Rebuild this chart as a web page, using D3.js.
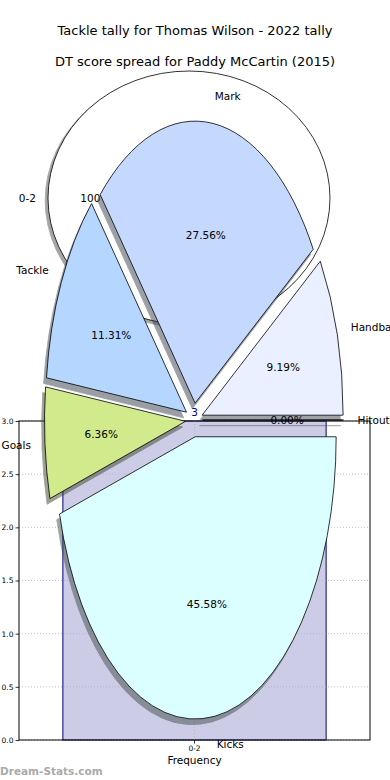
<!DOCTYPE html>
<html>
<head>
<meta charset="utf-8">
<script src="https://cdn.jsdelivr.net/npm/d3@7"></script>
<style>
  body { margin: 0; background: #fff; }
  svg { display: block; font-family: 'DejaVu Sans', sans-serif; }
</style>
</head>
<body>
<svg></svg>
<script>
'use strict';

const svgWidth = 390;
const svgHeight = 780;

// bar chart (frequency of the score band)
const barCategories = ['0-2'];
const barValues = [3];
const yTicks = [0, 0.5, 1, 1.5, 2, 2.5, 3];

// big single-slice pie behind
const outerLabels = ['0-2'];
const outerValues = [100];

// stat breakdown pie, counter-clockwise from 3 o'clock
const statLabels = ['Handball', 'Mark', 'Tackle', 'Goals', 'Kicks', 'Hitout'];
const statValues = [9.19, 27.56, 11.31, 6.36, 45.58, 0.00];
const statColors = ['#eaf0ff', '#c5d9ff', '#b4d6ff', '#d0ea8c', '#dbffff', '#ffffff'];

const svg = d3.select('svg')
  .attr('width', svgWidth)
  .attr('height', svgHeight);

// ---- bar axes ----
const plot = { left: 19, right: 370, top: 421, bottom: 740 };

const x = d3.scaleBand()
  .domain(barCategories)
  .range([plot.left, plot.right])
  .paddingInner(0)
  .paddingOuter(1 / 6);

const y = d3.scaleLinear()
  .domain([0, 3])
  .range([plot.bottom, plot.top]);

const barG = svg.append('g');

barG.selectAll('rect.bar')
  .data(barValues)
  .join('rect')
  .attr('class', 'bar')
  .attr('x', (d, i) => x(barCategories[i]))
  .attr('width', x.bandwidth())
  .attr('y', d => y(d))
  .attr('height', d => y(0) - y(d))
  .attr('fill', 'rgba(0,0,128,0.2)')
  .attr('stroke', 'navy')
  .attr('stroke-width', 1);

// dotted grid
const gridG = barG.append('g')
  .attr('stroke', '#b0b0b0')
  .attr('stroke-width', 0.8)
  .attr('stroke-dasharray', '1,2');

gridG.selectAll('line.h')
  .data(yTicks)
  .join('line')
  .attr('class', 'h')
  .attr('x1', plot.left).attr('x2', plot.right)
  .attr('y1', d => y(d)).attr('y2', d => y(d));

gridG.selectAll('line.v')
  .data(barCategories)
  .join('line')
  .attr('class', 'v')
  .attr('x1', d => x(d) + x.bandwidth() / 2)
  .attr('x2', d => x(d) + x.bandwidth() / 2)
  .attr('y1', plot.top).attr('y2', plot.bottom);

// axes
const yAxis = barG.append('g')
  .attr('transform', `translate(${plot.left},0)`)
  .call(d3.axisLeft(y).tickValues(yTicks).tickFormat(d3.format('.1f'))
    .tickSize(3.5).tickPadding(2));
yAxis.select('.domain').remove();
yAxis.selectAll('text').attr('font-size', '7.5px').attr('font-family', 'DejaVu Sans');
yAxis.selectAll('line').attr('stroke', '#000').attr('stroke-width', 0.8);

const xAxis = barG.append('g')
  .attr('transform', `translate(0,${plot.bottom})`)
  .call(d3.axisBottom(x).tickSize(3.5).tickPadding(2));
xAxis.select('.domain').remove();
xAxis.selectAll('text').attr('font-size', '7.5px').attr('font-family', 'DejaVu Sans');
xAxis.selectAll('line').attr('stroke', '#000').attr('stroke-width', 0.8);

barG.append('rect')
  .attr('x', plot.left)
  .attr('y', plot.top)
  .attr('width', plot.right - plot.left)
  .attr('height', plot.bottom - plot.top)
  .attr('fill', 'none')
  .attr('stroke', '#000')
  .attr('stroke-width', 1);

barG.append('text')
  .attr('x', (plot.left + plot.right) / 2)
  .attr('y', 760)
  .attr('text-anchor', 'middle')
  .attr('dominant-baseline', 'central')
  .attr('font-size', '10.5px')
  .text('Frequency');

// ---- pies ----
// matplotlib-like pie on an ellipse: counter-clockwise from 3 o'clock,
// exploded slices, offset shadows, labels outside and percents inside
function drawPie(g, labels, values, colors, o) {
  const pie = d3.pie()
    .sort(null)
    .value(d => d)
    .startAngle(Math.PI / 2)
    .endAngle(Math.PI / 2 - 2 * Math.PI);

  const total = d3.sum(values);
  const arcs = pie(values);
  const arc = d3.arc().innerRadius(0).outerRadius(1);

  arcs.forEach((a, i) => {
    const mid = (a.startAngle + a.endAngle) / 2;
    a.ux = Math.sin(mid);
    a.uy = -Math.cos(mid);
    a.ox = o.cx + o.explode * o.rx * a.ux;
    a.oy = o.cy + o.explode * o.ry * a.uy;
    a.color = colors[i];
    a.label = labels[i];
    a.pct = a.value / total * 100;
  });

  const shade = d => {
    const c = d3.rgb(d.color);
    return d3.rgb(c.r * 0.3, c.g * 0.3, c.b * 0.3);
  };

  const shadowG = g.append('g');
  shadowG.selectAll('path')
    .data(arcs)
    .join('path')
    .attr('transform', d => `translate(${d.ox - 0.02 * o.rx},${d.oy + 0.02 * o.ry}) scale(${o.rx},${o.ry})`)
    .attr('d', arc)
    .attr('vector-effect', 'non-scaling-stroke')
    .attr('fill', shade)
    .attr('stroke', shade)
    .attr('stroke-width', 0.8)
    .attr('opacity', 0.5);

  const wedgeG = g.append('g');
  wedgeG.selectAll('path')
    .data(arcs)
    .join('path')
    .attr('transform', d => `translate(${d.ox},${d.oy}) scale(${o.rx},${o.ry})`)
    .attr('d', arc)
    .attr('vector-effect', 'non-scaling-stroke')
    .attr('fill', d => d.color)
    .attr('stroke', '#000')
    .attr('stroke-width', 0.8)
    .attr('stroke-linejoin', 'round');

  g.append('g').selectAll('text')
    .data(arcs)
    .join('text')
    .attr('x', d => d.ox + o.labelDist * o.rx * d.ux)
    .attr('y', d => d.oy + o.labelDist * o.ry * d.uy)
    .attr('text-anchor', d => d.ux >= 0 ? 'start' : 'end')
    .attr('dominant-baseline', 'central')
    .attr('font-size', '10.5px')
    .text(d => d.label);

  g.append('g').selectAll('text')
    .data(arcs)
    .join('text')
    .attr('x', d => d.ox + o.pctDist * o.rx * d.ux)
    .attr('y', d => d.oy + o.pctDist * o.ry * d.uy)
    .attr('text-anchor', 'middle')
    .attr('dominant-baseline', 'central')
    .attr('font-size', '10.5px')
    .text(d => o.pctFormat(d.pct));
}

drawPie(svg.append('g'), outerLabels, outerValues, ['#ffffff'], {
  cx: 189, cy: 198, rx: 141, ry: 127,
  explode: 0, labelDist: 1.085, pctDist: 0.7,
  pctFormat: d3.format('.0f')
});

drawPie(svg.append('g'), statLabels, statValues, statColors, {
  cx: 194, cy: 420, rx: 141, ry: 282,
  explode: 0.06, labelDist: 1.1, pctDist: 0.6,
  pctFormat: v => d3.format('.2f')(v) + '%'
});

// value label above the bar
svg.append('g').selectAll('text')
  .data(barValues)
  .join('text')
  .attr('x', (d, i) => x(barCategories[i]) + x.bandwidth() / 2)
  .attr('y', d => y(d) - 9)
  .attr('text-anchor', 'middle')
  .attr('dominant-baseline', 'central')
  .attr('font-size', '10.5px')
  .attr('fill', 'navy')
  .text(d => d);

// titles
svg.append('text')
  .attr('x', svgWidth / 2)
  .attr('y', 30)
  .attr('text-anchor', 'middle')
  .attr('dominant-baseline', 'central')
  .attr('font-size', '13px')
  .text('Tackle tally for Thomas Wilson - 2022 tally');

svg.append('text')
  .attr('x', svgWidth / 2)
  .attr('y', 61)
  .attr('text-anchor', 'middle')
  .attr('dominant-baseline', 'central')
  .attr('font-size', '13px')
  .text('DT score spread for Paddy McCartin (2015)');

svg.append('text')
  .attr('x', 0)
  .attr('y', 771)
  .attr('dominant-baseline', 'central')
  .attr('font-size', '10.5px')
  .attr('font-weight', 'bold')
  .attr('fill', '#aaaaaa')
  .text('Dream-Stats.com');
</script>
</body>
</html>
